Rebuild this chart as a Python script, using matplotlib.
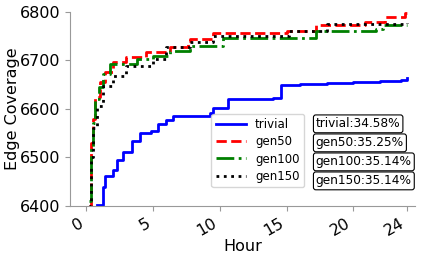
import matplotlib
matplotlib.use("Agg")
import matplotlib.pyplot as plt

# hours / coverage (step curves)
trivial_x = [0.85, 1.29, 1.42, 2.04, 2.29, 2.78, 3.41, 4.03, 4.9, 5.4, 6.0, 6.5, 7.76, 9.25, 9.5, 10.6, 14.0, 14.6, 16, 18, 20, 22, 23.56, 24.0]
trivial_y = [6402, 6440, 6461, 6475, 6495, 6512, 6533, 6551, 6554, 6568, 6578, 6585, 6586, 6592, 6602, 6620, 6623, 6649, 6651, 6653, 6655, 6657, 6659, 6663]

gen50_x = [0.2, 0.35, 0.5, 0.67, 1.04, 1.42, 2.04, 3.0, 4.5, 6.27, 7.6, 7.76, 9.5, 15.0, 17.2, 20.9, 22.4, 23.9, 24.0]
gen50_y = [6400, 6530, 6580, 6624, 6655, 6676, 6696, 6707, 6717, 6727, 6740, 6744, 6756, 6761, 6773, 6779, 6789, 6798, 6798]

gen100_x = [0.2, 0.35, 0.5, 0.67, 1.0, 1.29, 1.8, 3.78, 5.0, 6.27, 7.76, 10.25, 17.2, 21.7, 22.2, 24.0]
gen100_y = [6410, 6520, 6570, 6620, 6645, 6671, 6692, 6703, 6709, 6720, 6730, 6747, 6761, 6765, 6772, 6774]

gen150_x = [0.25, 0.4, 0.55, 0.8, 1.3, 2.04, 3.0, 5.0, 6.0, 7.76, 9.5, 15.2, 18.0, 24.0]
gen150_y = [6400, 6500, 6560, 6606, 6647, 6668, 6689, 6703, 6727, 6737, 6751, 6761, 6775, 6777]

labels = ["trivial", "gen50", "gen100", "gen150"]
rates = ["34.58%", "35.25%", "35.14%", "35.14%"]

fig = plt.figure(figsize=(4.29, 2.59), dpi=100)
ax = fig.add_axes([0.163, 0.205, 0.804, 0.749])

ax.plot(trivial_x, trivial_y, "b-", lw=2, drawstyle="steps-post", label=labels[0])
ax.plot(gen50_x, gen50_y, "r--", lw=2, drawstyle="steps-post", label=labels[1])
ax.plot(gen100_x, gen100_y, "g-.", lw=2, drawstyle="steps-post", label=labels[2])
ax.plot(gen150_x, gen150_y, "k:", lw=2, drawstyle="steps-post", label=labels[3])

ax.set_xlim(-1.2, 24.6)
ax.set_ylim(6400, 6800)
ax.set_xticks([0, 5, 10, 15, 20, 24])
ax.set_yticks([6400, 6500, 6600, 6700, 6800])
ax.tick_params(labelsize=11.5, color="#999999")
plt.setp(ax.get_xticklabels(), rotation=30, ha="right")
ax.set_xlabel("Hour", fontsize=11.5, labelpad=0)
ax.set_ylabel("Edge Coverage", fontsize=11.5, labelpad=0)
for s in ["top", "right"]:
    ax.spines[s].set_visible(False)
for s in ["left", "bottom"]:
    ax.spines[s].set_color("#999999")

ax.legend(loc="lower left", bbox_to_anchor=(0.41, 0.095), fontsize=8.5,
          handlelength=2.5, labelspacing=0.35, borderaxespad=0)

for i, (lab, r) in enumerate(zip(labels, rates)):
    ax.text(0.713, 0.423 - i * 0.098, lab + ":" + r, transform=ax.transAxes,
            fontsize=8.7, va="center", ha="left",
            bbox=dict(boxstyle="round,pad=0.2", fc="white", ec="black", lw=0.8))

fig.savefig("out.png")
